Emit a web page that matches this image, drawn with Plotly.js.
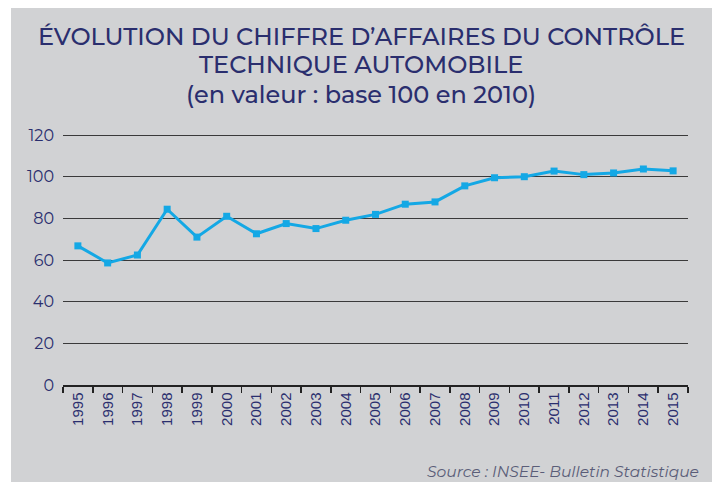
<!DOCTYPE html>
<html>
<head>
<meta charset="utf-8">
<script src="https://cdn.plot.ly/plotly-3.0.1.min.js"></script>
<style>
  html, body { margin: 0; padding: 0; background: #ffffff; width: 718px; height: 485px; overflow: hidden; }
  #chart { position: absolute; left: 11px; top: 8px; width: 701px; height: 474px; }
</style>
</head>
<body>
<div id="chart"></div>
<script>
const years = ['1995','1996','1997','1998','1999','2000','2001','2002','2003','2004','2005',
               '2006','2007','2008','2009','2010','2011','2012','2013','2014','2015'];
const indexValues = [66.8, 58.6, 62.4, 84.4, 71.0, 81.0, 72.6, 77.5, 75.1, 79.1, 81.9,
                     86.8, 87.9, 95.6, 99.5, 100.0, 102.7, 101.0, 101.8, 103.7, 102.8];
const yTicks = [0, 20, 40, 60, 80, 100, 120];
const titleLines = ['ÉVOLUTION DU CHIFFRE D’AFFAIRES DU CONTRÔLE',
                    'TECHNIQUE AUTOMOBILE',
                    '(en valeur : base 100 en 2010)'];
const sourceText = 'Source : INSEE- Bulletin Statistique';

const navy = '#2a2e6e';
const titleFont = 'Montserrat, "Noto Sans", Lato, sans-serif';

const trace = {
  x: years,
  y: indexValues,
  type: 'scatter',
  mode: 'lines+markers',
  line: { color: '#14a8e5', width: 3 },
  marker: { color: '#14a8e5', size: 7, symbol: 'square' },
  hoverinfo: 'x+y'
};

const titleY = [1.39, 1.276, 1.158];
const titleAnnotations = titleLines.map((t, i) => ({
  text: t,
  xref: 'paper', yref: 'paper',
  x: 0.477, y: titleY[i],
  xanchor: 'center', yanchor: 'middle',
  showarrow: false,
  font: { family: titleFont, size: 24, color: navy, weight: 500 }
}));

const layout = {
  width: 701,
  height: 474,
  paper_bgcolor: '#d1d2d4',
  plot_bgcolor: '#d1d2d4',
  margin: { l: 52, r: 24, t: 126, b: 97 },
  showlegend: false,
  xaxis: {
    type: 'category',
    tickmode: 'array',
    tickvals: years,
    ticktext: years,
    tickangle: -90,
    tickson: 'boundaries',
    ticks: 'outside',
    ticklen: 6,
    tickwidth: 1.5,
    tickcolor: '#222222',
    showline: true,
    linecolor: '#222222',
    linewidth: 1.5,
    showgrid: false,
    zeroline: false,
    range: [-0.5, years.length - 0.5],
    tickfont: { family: '"Liberation Sans", Arial, sans-serif', size: 15, color: navy },
    fixedrange: true
  },
  yaxis: {
    range: [0, 120.5],
    tickmode: 'array',
    tickvals: yTicks,
    ticktext: yTicks.map(String),
    showgrid: true,
    gridcolor: '#3a3a3a',
    gridwidth: 1,
    zeroline: false,
    showline: false,
    ticks: '',
    ticklabelstandoff: 8,
    tickfont: { family: titleFont, size: 16, color: navy },
    fixedrange: true
  },
  annotations: titleAnnotations.concat([{
    text: sourceText,
    xref: 'paper', yref: 'paper',
    x: 1.021, y: -0.344,
    xanchor: 'right', yanchor: 'middle',
    showarrow: false,
    font: { family: titleFont, size: 15.5, color: '#5a5d78', style: 'italic' }
  }])
};

Plotly.newPlot('chart', [trace], layout, { displayModeBar: false, staticPlot: true });
</script>
</body>
</html>
